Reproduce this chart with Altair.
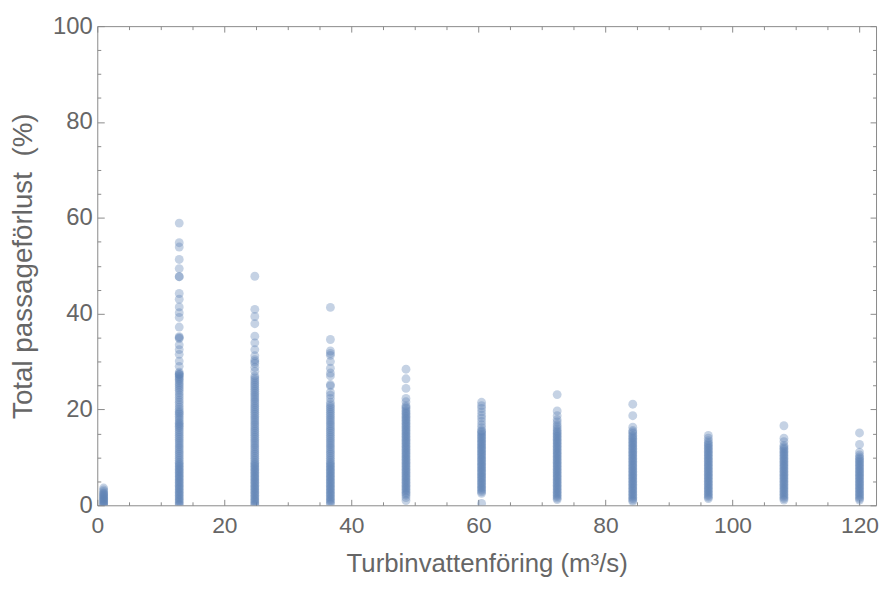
import altair as alt
import pandas as pd

# Turbine discharge (m3/s) of each column of points
flows = [1.0, 12.9, 24.8, 36.7, 48.6, 60.5, 72.4, 84.3, 96.2, 108.1, 120.0]

# Total passage loss (%)
loss_q01 = [0.0, 0.2, 0.4, 0.6, 0.8, 1.0, 1.2, 1.4, 1.6, 1.8, 2.0, 2.2, 2.4, 2.6, 2.9, 3.2, 3.6]
loss_q13 = [58.9, 54.8, 53.9, 51.3, 49.4, 47.7, 47.7, 44.2, 43.0, 41.4, 40.2, 39.2, 37.2,
            35.2, 35.0, 34.8, 33.5, 32.5, 31.5, 30.1, 29.0, 27.8, 27.3,
            0.0, 0.3, 0.6, 0.9, 1.2, 1.5, 1.8, 2.1, 2.4, 2.7, 3.0, 3.3, 3.6, 3.9, 4.2, 4.5,
            4.8, 5.1, 5.4, 5.7, 6.0, 6.3, 6.6, 6.9, 7.2, 7.5, 7.8, 8.1, 8.4, 8.7, 9.0, 9.4,
            9.8, 10.2, 10.6, 11.0, 11.4, 11.8, 12.2, 12.6, 13.0, 13.4, 13.8, 14.2, 14.6, 15.0,
            15.4, 15.8, 16.2, 16.5, 16.8, 17.1, 17.4, 17.8, 18.2, 18.6, 19.0, 19.3, 19.6, 20.0,
            20.5, 21.0, 21.5, 22.0, 22.5, 23.0, 23.5, 24.0, 24.4, 24.8, 25.2, 25.6, 26.0, 26.3,
            26.6, 26.9, 27.2, 27.5]
loss_q25 = [47.8, 40.9, 39.4, 37.9, 35.3, 33.9, 32.5, 31.2, 30.4, 30.0, 29.6, 28.8, 28.0,
            0.0, 0.3, 0.6, 0.9, 1.2, 1.5, 1.8, 2.1, 2.4, 2.7, 3.0, 3.3, 3.6, 3.9, 4.2, 4.5,
            4.8, 5.1, 5.4, 5.7, 6.0, 6.3, 6.6, 6.9, 7.2, 7.5, 7.8, 8.1, 8.4, 8.7, 9.0, 9.4,
            9.8, 10.2, 10.6, 11.0, 11.4, 11.8, 12.2, 12.6, 13.0, 13.4, 13.8, 14.2, 14.6, 15.0,
            15.4, 15.8, 16.2, 16.6, 17.0, 17.4, 17.8, 18.2, 18.6, 19.0, 19.4, 19.8, 20.2, 20.6,
            21.0, 21.4, 21.8, 22.2, 22.6, 23.0, 23.4, 23.8, 24.2, 24.6, 25.0, 25.4, 25.8, 26.2,
            26.6, 27.0]
loss_q37 = [41.3, 34.6, 32.2, 31.7, 31.3, 30.0, 28.6, 27.6, 27.0, 25.2, 24.9, 23.6, 23.0, 22.3,
            0.3, 0.6, 0.9, 1.2, 1.5, 1.8, 2.1, 2.4, 2.7, 3.0, 3.3, 3.6, 3.9, 4.2, 4.5, 4.8,
            5.1, 5.4, 5.7, 6.0, 6.3, 6.6, 6.9, 7.2, 7.5, 7.8, 8.1, 8.4, 8.7, 9.0, 9.4, 9.8,
            10.2, 10.6, 11.0, 11.4, 11.8, 12.2, 12.6, 13.0, 13.4, 13.8, 14.2, 14.6, 15.0, 15.4,
            15.8, 16.2, 16.6, 17.0, 17.4, 17.8, 18.2, 18.6, 19.0, 19.4, 19.8, 20.2, 20.6, 21.0,
            21.5]
loss_q49 = [28.4, 26.4, 24.4, 22.3, 21.6,
            1.0, 1.6, 2.1, 2.4, 2.7, 3.0, 3.3, 3.6, 3.9, 4.2, 4.5, 4.8, 5.1, 5.4, 5.7, 6.0,
            6.3, 6.6, 6.9, 7.2, 7.5, 7.8, 8.1, 8.4, 8.7, 9.0, 9.3, 9.6, 9.9, 10.2, 10.5, 10.8,
            11.1, 11.4, 11.7, 12.0, 12.3, 12.6, 12.9, 13.2, 13.5, 13.8, 14.1, 14.4, 14.7, 15.0,
            15.3, 15.6, 15.9, 16.2, 16.5, 16.8, 17.1, 17.4, 17.7, 18.0, 18.3, 18.6, 18.9, 19.2,
            19.5, 19.8, 20.2, 20.5, 20.8]
loss_q61 = [21.5, 20.8, 20.2, 19.5, 18.8, 18.2, 17.5, 16.8, 16.2, 0.4,
            2.5, 2.8, 3.1, 3.4, 3.7, 4.0, 4.3, 4.6, 4.9, 5.2, 5.5, 5.8, 6.1, 6.4, 6.7, 7.0,
            7.3, 7.6, 7.9, 8.2, 8.5, 8.8, 9.1, 9.4, 9.7, 10.0, 10.3, 10.6, 10.9, 11.2, 11.5,
            11.8, 12.1, 12.4, 12.7, 13.0, 13.3, 13.6, 13.9, 14.2, 14.5, 14.8, 15.1, 15.4, 15.6]
loss_q72 = [23.1, 19.7, 18.7, 17.9, 17.4,
            1.2, 1.5, 1.8, 2.1, 2.4, 2.7, 3.0, 3.3, 3.6, 3.9, 4.2, 4.5, 4.8, 5.1, 5.4, 5.7,
            6.0, 6.3, 6.6, 6.9, 7.2, 7.5, 7.8, 8.1, 8.4, 8.7, 9.0, 9.3, 9.6, 9.9, 10.2, 10.5,
            10.8, 11.1, 11.4, 11.7, 12.0, 12.3, 12.6, 12.9, 13.2, 13.5, 13.8, 14.1, 14.4, 14.7,
            15.0, 15.3, 15.6, 16.0, 16.4, 16.8]
loss_q84 = [21.1, 18.7, 16.3, 15.6,
            0.8, 1.1, 1.4, 1.7, 2.0, 2.3, 2.6, 2.9, 3.2, 3.5, 3.8, 4.1, 4.4, 4.7, 5.0, 5.3,
            5.6, 5.9, 6.2, 6.5, 6.8, 7.1, 7.4, 7.7, 8.0, 8.3, 8.6, 8.9, 9.2, 9.5, 9.8, 10.1,
            10.4, 10.7, 11.0, 11.3, 11.6, 11.9, 12.2, 12.5, 12.8, 13.1, 13.4, 13.7, 14.0, 14.3,
            14.6, 15.0, 15.3]
loss_q96 = [14.6, 14.0,
            1.4, 1.7, 2.0, 2.3, 2.6, 2.9, 3.2, 3.5, 3.8, 4.1, 4.4, 4.7, 5.0, 5.3, 5.6, 5.9,
            6.2, 6.5, 6.8, 7.1, 7.4, 7.7, 8.0, 8.3, 8.6, 8.9, 9.2, 9.5, 9.8, 10.1, 10.4, 10.7,
            11.0, 11.3, 11.6, 11.9, 12.2, 12.5, 12.8, 13.1, 13.5]
loss_q108 = [16.6, 14.0, 13.3,
             1.1, 1.4, 1.7, 2.0, 2.3, 2.6, 2.9, 3.2, 3.5, 3.8, 4.1, 4.4, 4.7, 5.0, 5.3, 5.6,
             5.9, 6.2, 6.5, 6.8, 7.1, 7.4, 7.7, 8.0, 8.3, 8.6, 8.9, 9.2, 9.5, 9.8, 10.1, 10.4,
             10.7, 11.0, 11.3, 11.6, 11.9, 12.2, 12.5]
loss_q120 = [15.1, 12.7, 11.1, 10.5,
             1.1, 1.4, 1.7, 2.0, 2.3, 2.6, 2.9, 3.2, 3.5, 3.8, 4.1, 4.4, 4.7, 5.0, 5.3, 5.6,
             5.9, 6.2, 6.5, 6.8, 7.1, 7.4, 7.7, 8.0, 8.3, 8.6, 8.9, 9.2, 9.5, 9.8, 10.1]

losses = [loss_q01, loss_q13, loss_q25, loss_q37, loss_q49, loss_q61,
          loss_q72, loss_q84, loss_q96, loss_q108, loss_q120]

# Tick values
x_major = [0, 20, 40, 60, 80, 100, 120]
x_minor = [5, 10, 15, 25, 30, 35, 45, 50, 55, 65, 70, 75, 85, 90, 95, 105, 110, 115]
y_major = [0, 20, 40, 60, 80, 100]
y_minor = [5, 10, 15, 25, 30, 35, 45, 50, 55, 65, 70, 75, 85, 90, 95]

rows = []
for q, ys in zip(flows, losses):
    for v in ys:
        rows.append({"flow": q, "loss": v})
df = pd.DataFrame(rows)
df["row"] = range(len(df))

FRAME = "#8a8a8a"
TXT = "#666666"
FONT = "Liberation Sans"
MAJ = 6
MIN = 3.5

xscale = alt.Scale(domain=[0, 122.6], nice=False, zero=False)
yscale = alt.Scale(domain=[0, 100], nice=False, zero=False)


def tick_axis(orient, values, size, **kw):
    return alt.Axis(orient=orient, values=values, tickSize=size, offset=-size,
                    domain=False, grid=False, tickColor=FRAME, tickWidth=1,
                    **kw)


bottom_major = tick_axis("bottom", x_major, MAJ, labels=True, labelFontSize=23,
                         labelFont=FONT, labelColor=TXT, labelPadding=9,
                         labelFlush=False, labelOverlap=False, format="d",
                         title="Turbinvattenföring (m³/s)", titleFontSize=26,
                         titleFont=FONT, titleColor=TXT, titleFontWeight="normal",
                         titlePadding=14)
left_major = tick_axis("left", y_major, MAJ + 1, labels=True, labelFontSize=24,
                       labelFont=FONT, labelColor=TXT, labelPadding=5,
                       labelOverlap=False, format="d",
                       title="Total passageförlust\u00a0 (%)", titleFontSize=28,
                       titleFont=FONT, titleColor=TXT, titleFontWeight="normal",
                       titlePadding=15)

points = alt.Chart(df).mark_circle(size=80, opacity=0.36, color="#5E81B5", clip=True).encode(
    x=alt.X("flow:Q", scale=xscale, axis=bottom_major),
    y=alt.Y("loss:Q", scale=yscale, axis=left_major),
)


def dummy(xaxis, yaxis):
    return alt.Chart(df).transform_filter("datum.row == 0").mark_point(opacity=0).encode(
        x=alt.X("flow:Q", scale=xscale, axis=xaxis),
        y=alt.Y("loss:Q", scale=yscale, axis=yaxis),
    )


minor_bl = dummy(tick_axis("bottom", x_minor, MIN, labels=False, title=""),
                 tick_axis("left", y_minor, MIN, labels=False, title=""))
major_tr = dummy(tick_axis("top", x_major, MAJ, labels=False, title=""),
                 tick_axis("right", y_major, MAJ, labels=False, title=""))
minor_tr = dummy(tick_axis("top", x_minor, MIN, labels=False, title=""),
                 tick_axis("right", y_minor, MIN, labels=False, title=""))

chart = alt.layer(points, minor_bl, major_tr, minor_tr).resolve_axis(
    x="independent", y="independent"
).properties(
    width=785, height=483,
    autosize=alt.AutoSizeParams(type="none"),
    padding={"left": 90, "top": 16, "right": 4, "bottom": 70},
    background="white",
).configure_view(stroke=FRAME, strokeWidth=1)

chart.save("out.html", embed_options={"renderer": "svg", "actions": False})
